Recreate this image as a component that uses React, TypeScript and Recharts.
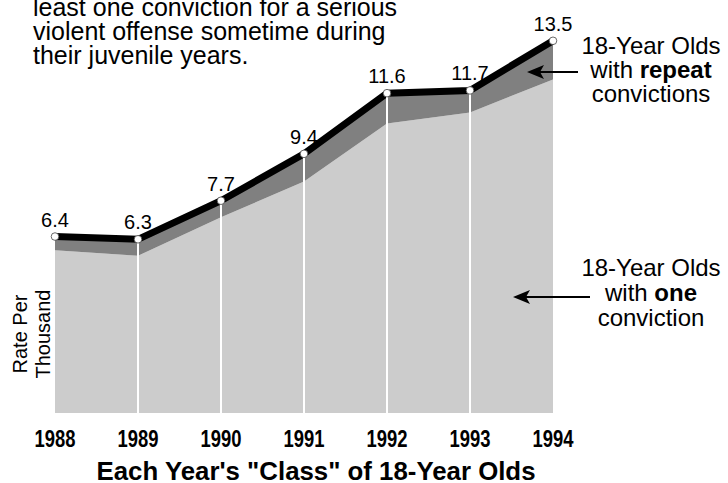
import React from 'react';
import { ComposedChart, Area, Line, XAxis, YAxis, LabelList } from 'recharts';

// values (rate per thousand)
const years = ['1988', '1989', '1990', '1991', '1992', '1993', '1994'];
const oneConviction = [5.9, 5.7, 7.1, 8.4, 10.5, 10.9, 12.1];
const repeatConvictions = [0.5, 0.6, 0.6, 1.0, 1.1, 0.8, 1.4];
const totalRate = [6.4, 6.3, 7.7, 9.4, 11.6, 11.7, 13.5];

const data = years.map((year, i) => ({
  year,
  one: oneConviction[i],
  repeat: repeatConvictions[i],
  total: totalRate[i],
}));

const W = 728;
const H = 483;
const XAXIS_H = 70;
const PLOT_BOTTOM = H - XAXIS_H;

const SANS = "'Liberation Sans', Arial, Helvetica, sans-serif";

// narrow bold look: squeeze the year labels to the width of the original
const YearTick = (props: any) => {
  const { x, y, payload } = props;
  return (
    <text
      x={x}
      y={y + 34}
      textAnchor="middle"
      fontFamily={SANS}
      fontWeight="bold"
      fontSize={24}
      textLength={41}
      lengthAdjust="spacingAndGlyphs"
      fill="#000"
    >
      {payload.value}
    </text>
  );
};

const PointDot = (props: any) => {
  const { cx, cy, index } = props;
  if (cx == null || cy == null) return null;
  const inner = index > 0 && index < years.length - 1;
  return (
    <g key={`dot-${index}`}>
      {inner && <line x1={cx} y1={cy + 3} x2={cx} y2={PLOT_BOTTOM} stroke="#fff" strokeWidth={2} />}
      <circle cx={cx} cy={cy} r={3.8} fill="#fff" stroke="#444" strokeWidth={0.8} />
    </g>
  );
};

function Arrow({ from, to, y }: { from: number; to: number; y: number }) {
  return (
    <g>
      <line x1={from} y1={y} x2={to + 12} y2={y} stroke="#000" strokeWidth={2} />
      <polygon points={`${to},${y} ${to + 17},${y - 7} ${to + 13},${y} ${to + 17},${y + 7}`} fill="#000" />
    </g>
  );
}

export default function App() {
  return (
    <div style={{ position: 'relative', width: W, height: H, background: '#fff' }}>
      <style>{'body{margin:0}'}</style>
      <ComposedChart width={W} height={H} data={data} margin={{ top: 27, right: 175, left: 55, bottom: 0 }}>
        <XAxis
          dataKey="year"
          axisLine={false}
          tickLine={false}
          tickSize={0}
          tickMargin={0}
          height={XAXIS_H}
          interval={0}
          tick={<YearTick />}
        />
        <YAxis hide domain={[0, 14]} />
        <Area type="linear" dataKey="one" stackId="a" fill="#cccccc" fillOpacity={1} stroke="none" isAnimationActive={false} />
        <Area type="linear" dataKey="repeat" stackId="a" fill="#808080" fillOpacity={1} stroke="none" isAnimationActive={false} />
        <Line
          type="linear"
          dataKey="total"
          stroke="#000"
          strokeWidth={7}
          dot={<PointDot />}
          activeDot={false}
          isAnimationActive={false}
        >
          <LabelList dataKey="total" position="top" offset={10} fontFamily={SANS} fontSize={20} fill="#000" />
        </Line>
      </ComposedChart>

      <svg width={W} height={H} style={{ position: 'absolute', left: 0, top: 0, pointerEvents: 'none' }}>
        <g fontFamily={SANS} fontSize={25} fill="#000">
          <text x={33} y={16}>least one conviction for a serious</text>
          <text x={33} y={40}>violent offense sometime during</text>
          <text x={33} y={64}>their juvenile years.</text>
        </g>

        <g fontFamily={SANS} fontSize={24} fill="#000" textAnchor="middle">
          <text x={651} y={54}>18-Year Olds</text>
          <text x={651} y={78}>
            with <tspan fontWeight="bold">repeat</tspan>
          </text>
          <text x={651} y={102}>convictions</text>

          <text x={651} y={276}>18-Year Olds</text>
          <text x={651} y={301}>
            with <tspan fontWeight="bold">one</tspan>
          </text>
          <text x={651} y={326}>conviction</text>
        </g>
        <Arrow from={578} to={527} y={72} />
        <Arrow from={590} to={513} y={297} />

        <g fontFamily={SANS} fontSize={20} fill="#000" textAnchor="middle">
          <text transform="rotate(-90, 27, 334)" x={27} y={334}>Rate Per</text>
          <text transform="rotate(-90, 50, 334)" x={50} y={334}>Thousand</text>
        </g>

        <text
          x={316}
          y={480}
          textAnchor="middle"
          fontFamily={SANS}
          fontWeight="bold"
          fontSize={25}
          textLength={439}
          lengthAdjust="spacingAndGlyphs"
          fill="#000"
        >
          Each Year's "Class" of 18-Year Olds
        </text>
      </svg>
    </div>
  );
}
